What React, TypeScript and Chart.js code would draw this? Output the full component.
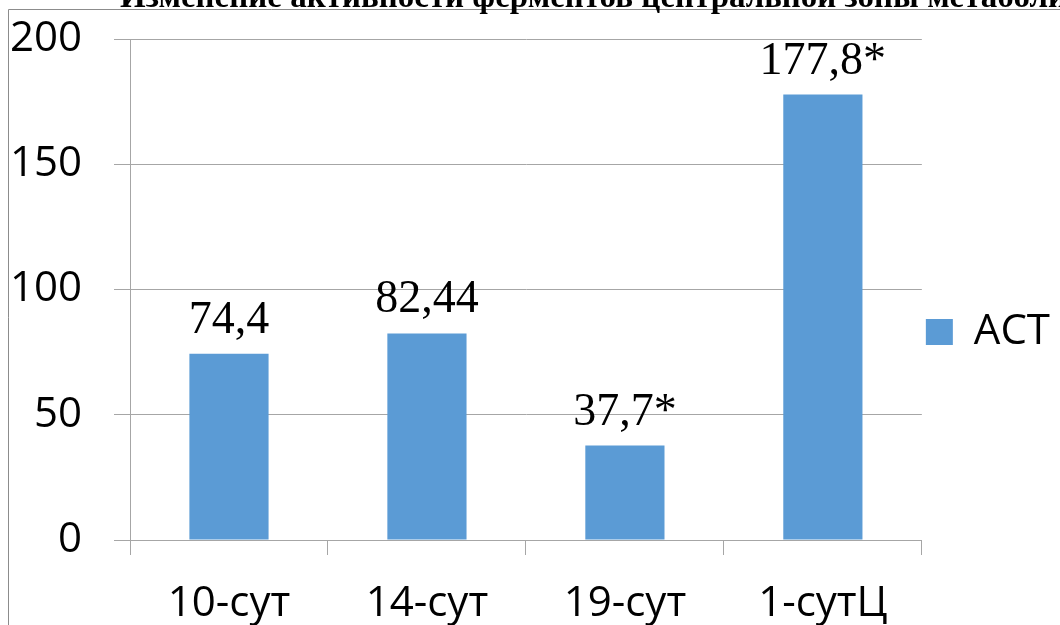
import React, { useEffect, useRef } from 'react';
import { Chart, registerables } from 'chart.js';

Chart.register(...registerables);

const categories = ['10-сут', '14-сут', '19-сут', '1-сутЦ'];
const astValues = [74.4, 82.44, 37.7, 177.8];
const valueLabels = ['74,4', '82,44', '37,7*', '177,8*'];
const yMin = 0;
const yMax = 200;
const yStep = 50;
const seriesName = 'АСТ';
const titleText = 'Изменение активности ферментов центральной зоны метаболизма';

const BAR_COLOR = '#5b9bd5';
const GRID_COLOR = '#a6a6a6';
const SANS = '"Open Sans", "Noto Sans", sans-serif';
const SERIF = '"Liberation Serif", "DejaVu Serif", serif';

const framePlugin = {
  id: 'frameAndTitle',
  afterDraw(chart: any) {
    const ctx = chart.ctx;
    ctx.save();
    ctx.strokeStyle = '#8c8c8c';
    ctx.lineWidth = 1;
    ctx.beginPath();
    ctx.moveTo(8.5, chart.height);
    ctx.lineTo(8.5, 9.5);
    ctx.lineTo(chart.width, 9.5);
    ctx.stroke();
    ctx.fillStyle = '#000';
    ctx.font = `bold 33px ${SERIF}`;
    ctx.textAlign = 'left';
    ctx.textBaseline = 'alphabetic';
    ctx.fillText(titleText, 120, 7);
    ctx.restore();
  },
};

const valueLabelPlugin = {
  id: 'valueLabels',
  afterDatasetsDraw(chart: any) {
    const ctx = chart.ctx;
    const meta = chart.getDatasetMeta(0);
    ctx.save();
    ctx.fillStyle = '#000';
    ctx.font = `46px ${SERIF}`;
    ctx.textAlign = 'center';
    ctx.textBaseline = 'alphabetic';
    meta.data.forEach((bar: any, i: number) => {
      ctx.fillText(valueLabels[i], bar.x, bar.y - 21);
    });
    ctx.restore();
  },
};

export default function App() {
  const canvasRef = useRef<HTMLCanvasElement | null>(null);

  useEffect(() => {
    if (!canvasRef.current) return;
    const chart = new Chart(canvasRef.current, {
      type: 'bar',
      data: {
        labels: categories,
        datasets: [
          {
            label: seriesName,
            data: astValues,
            backgroundColor: BAR_COLOR,
            borderWidth: 0,
            categoryPercentage: 1,
            barPercentage: 0.4,
          },
        ],
      },
      options: {
        animation: false,
        responsive: false,
        maintainAspectRatio: false,
        layout: { padding: { top: 39, left: 0, right: 0, bottom: 0 } },
        plugins: {
          title: { display: false },
          tooltip: { enabled: false },
          legend: {
            display: true,
            position: 'right',
            labels: {
              boxWidth: 27,
              boxHeight: 26,
              padding: 4,
              color: '#000',
              font: { family: SANS, size: 42 },
            },
          },
        },
        scales: {
          x: {
            grid: {
              display: true,
              drawOnChartArea: false,
              drawTicks: true,
              tickLength: 15,
              color: GRID_COLOR,
              offset: true,
            },
            border: { display: true, color: GRID_COLOR },
            ticks: {
              color: '#000',
              font: { family: SANS, size: 42 },
              padding: 24,
              maxRotation: 0,
            },
            afterFit: (s: any) => {
              s.height = 85;
              s.paddingLeft = 0;
              s.paddingRight = 0;
            },
          },
          y: {
            min: yMin,
            max: yMax,
            grid: {
              color: GRID_COLOR,
              tickLength: 16,
              drawTicks: true,
            },
            border: { display: true, color: GRID_COLOR },
            ticks: {
              stepSize: yStep,
              color: '#000',
              font: { family: SANS, size: 42 },
              padding: 32,
            },
            afterFit: (s: any) => {
              s.width = 130;
              s.paddingTop = 0;
              s.paddingBottom = 0;
            },
          },
        },
      },
      plugins: [valueLabelPlugin, framePlugin],
    });
    return () => chart.destroy();
  }, []);

  return (
    <div style={{ position: 'absolute', left: 0, top: 0, width: 1060, height: 625, background: '#fff' }}>
      <canvas ref={canvasRef} width={1060} height={625} style={{ display: 'block', width: 1060, height: 625 }} />
    </div>
  );
}
